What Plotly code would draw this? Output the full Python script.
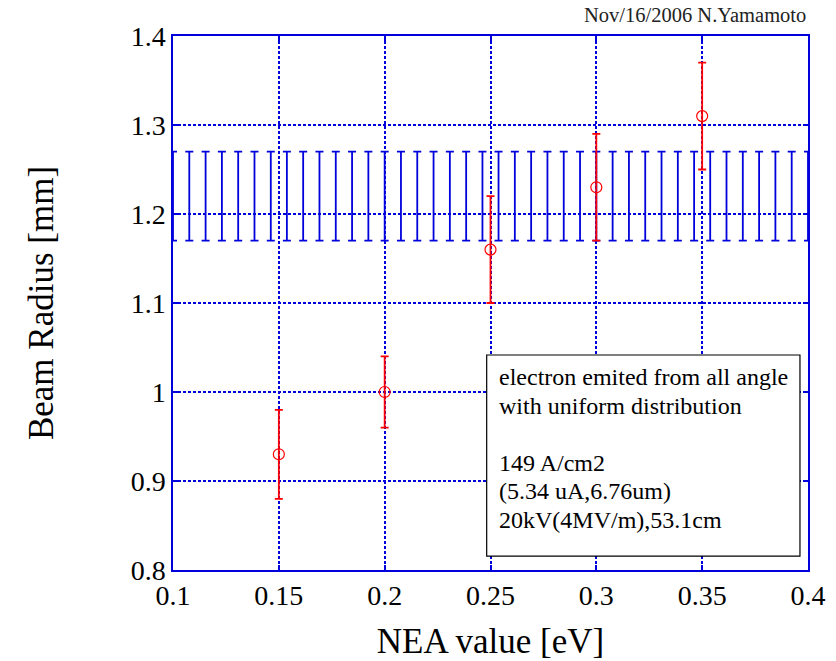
import plotly.graph_objects as go

# Measured data (red)
nea = [0.15, 0.20, 0.25, 0.30, 0.35]
radius = [0.93, 1.00, 1.16, 1.23, 1.31]
radius_err = [0.05, 0.04, 0.06, 0.06, 0.06]

# Simulation band (blue)
band_x = [0.1, 0.1077, 0.1154, 0.1231, 0.1308, 0.1385, 0.1462, 0.1538, 0.1615, 0.1692,
          0.1769, 0.1846, 0.1923, 0.2, 0.2077, 0.2154, 0.2231, 0.2308, 0.2385, 0.2462,
          0.2538, 0.2615, 0.2692, 0.2769, 0.2846, 0.2923, 0.3, 0.3077, 0.3154, 0.3231,
          0.3308, 0.3385, 0.3462, 0.3538, 0.3615, 0.3692, 0.3769, 0.3846, 0.3923, 0.4]
band_y = [1.22] * len(band_x)
band_err = [0.05] * len(band_x)

x_ticks = [0.1, 0.15, 0.2, 0.25, 0.3, 0.35, 0.4]
x_labels = ["0.1", "0.15", "0.2", "0.25", "0.3", "0.35", "0.4"]
y_ticks = [0.8, 0.9, 1.0, 1.1, 1.2, 1.3, 1.4]
y_labels = ["0.8", "0.9", "1", "1.1", "1.2", "1.3", "1.4"]

info_lines = ["electron emited from all angle", "with uniform distribution", "",
              "149 A/cm2", "(5.34 uA,6.76um)", "20kV(4MV/m),53.1cm"]

BLUE = "#0000dd"
SERIF = "Liberation Serif"

fig = go.Figure()
fig.add_trace(go.Scatter(
    x=band_x, y=band_y, mode="markers",
    marker=dict(size=1, color="rgba(0,0,0,0)"),
    error_y=dict(type="data", array=band_err, color=BLUE, thickness=1.8, width=4),
    showlegend=False, hoverinfo="skip"))
fig.add_trace(go.Scatter(
    x=nea, y=radius, mode="markers",
    marker=dict(symbol="circle-open", size=11, color="red", line=dict(width=1.2)),
    error_y=dict(type="data", array=radius_err, color="red", thickness=1.8, width=4),
    showlegend=False))

axis_common = dict(
    showline=True, linecolor=BLUE, linewidth=1.5, mirror="ticks",
    ticks="inside", ticklen=5, tickcolor=BLUE, tickwidth=1.5,
    showgrid=True, gridcolor=BLUE, gridwidth=1.5, griddash="3px,2px",
    zeroline=False, automargin=False,
    tickfont=dict(family=SERIF, size=28, color="black"))

fig.update_xaxes(range=[0.1, 0.4], tickvals=x_ticks, ticktext=x_labels,
                 title=dict(text="NEA value [eV]", font=dict(family=SERIF, size=35, color="black"), standoff=18),
                 **axis_common)
fig.update_yaxes(range=[0.8, 1.4], tickvals=y_ticks, ticktext=y_labels,
                 title=dict(text="Beam Radius [mm]", font=dict(family=SERIF, size=35, color="black"), standoff=66),
                 **axis_common)

# info box
fig.add_shape(type="rect", xref="x", yref="y", x0=0.2482, x1=0.3962, y0=0.8157, y1=1.0416,
              line=dict(color="black", width=1.2), fillcolor="white", layer="above")
for i, line in enumerate(info_lines):
    if not line:
        continue
    fig.add_annotation(xref="x", yref="y", x=0.2531, y=1.0337, xanchor="left", yanchor="top",
                       yshift=-28.6 * i, text=line, showarrow=False, align="left",
                       font=dict(family=SERIF, size=24, color="black"))

fig.add_annotation(xref="paper", yref="paper", x=1.0, y=1.0, yshift=21, xanchor="right", yanchor="middle",
                   text="Nov/16/2006 N.Yamamoto", showarrow=False,
                   font=dict(family=SERIF, size=20.5, color="#222222"))

fig.update_layout(width=836, height=661, margin=dict(l=173, r=28, t=36, b=91),
                  plot_bgcolor="white", paper_bgcolor="white")

fig.write_html("out.html", config={"displayModeBar": False},
               post_script="document.body.style.margin='0px';")
